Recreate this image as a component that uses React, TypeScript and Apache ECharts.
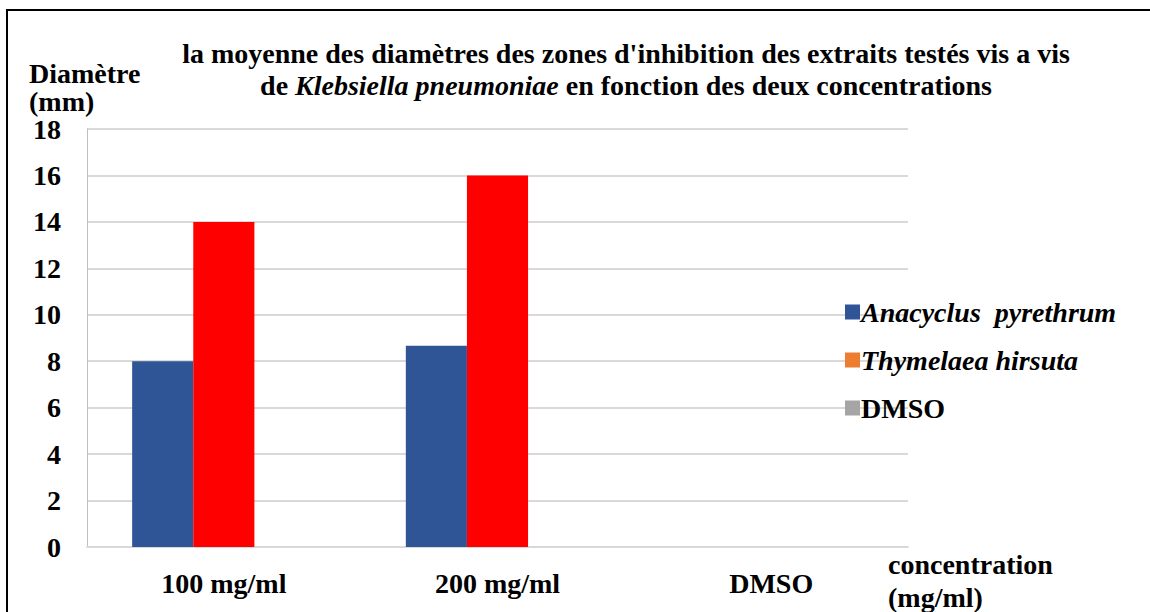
import React, { useEffect, useRef } from "react";
import * as echarts from "echarts";

const categories = ["100 mg/ml", "200 mg/ml", "DMSO"];
const seriesNames = ["Anacyclus  pyrethrum", "Thymelaea hirsuta", "DMSO"];
const anacyclusValues = [8, 8.67, 0];
const thymelaeaValues = [14, 16, 0];
const dmsoValues = [0, 0, 0];
const yTicks = { min: 0, max: 18, interval: 2 };

const FONT = "Liberation Serif";
const FS = 28;

export default function App() {
  const ref = useRef<HTMLDivElement>(null);
  useEffect(() => {
    if (!ref.current) return;
    const chart = echarts.init(ref.current, null, { renderer: "svg" });
    chart.setOption({
      animation: false,
      backgroundColor: "#ffffff",
      textStyle: { fontFamily: FONT },
      title: {
        text:
          "la moyenne des diamètres des zones d'inhibition des extraits testés vis a vis\nde {i|Klebsiella pneumoniae} en fonction des deux concentrations",
        left: 621,
        top: 32,
        textAlign: "center",
        textStyle: {
          fontFamily: FONT,
          fontWeight: "bold",
          fontSize: FS,
          color: "#000",
          lineHeight: 32,
          rich: {
            i: {
              fontFamily: FONT,
              fontWeight: "bold",
              fontStyle: "italic",
              fontSize: FS,
              color: "#000",
              lineHeight: 32,
            },
          },
        },
      },
      legend: {
        orient: "vertical",
        left: 840,
        top: 293,
        itemWidth: 15,
        itemHeight: 15,
        itemGap: 20,
        icon: "rect",
        data: seriesNames,
        formatter: (name: string) => (name === "DMSO" ? `{b|${name}}` : `{i|${name}}`),
        textStyle: {
          color: "#000",
          fontFamily: FONT,
          fontSize: FS,
          padding: [0, 0, 0, -4],
          rich: {
            i: { fontFamily: FONT, fontSize: FS, fontWeight: "bold", fontStyle: "italic", color: "#000" },
            b: { fontFamily: FONT, fontSize: FS, fontWeight: "bold", color: "#000" },
          },
        },
      },
      grid: { left: 87, right: 242, top: 129, bottom: 65 },
      xAxis: {
        type: "category",
        data: categories,
        axisTick: { show: false },
        axisLine: { lineStyle: { color: "#d9d9d9", width: 2 } },
        axisLabel: {
          margin: 22,
          color: "#000",
          fontFamily: FONT,
          fontWeight: "bold",
          fontSize: FS,
        },
      },
      yAxis: {
        type: "value",
        min: yTicks.min,
        max: yTicks.max,
        interval: yTicks.interval,
        axisLine: { show: true, lineStyle: { color: "#bfbfbf", width: 1 } },
        axisTick: { show: false },
        splitLine: { lineStyle: { color: "#d9d9d9", width: 2 } },
        axisLabel: {
          margin: 26,
          color: "#000",
          fontFamily: FONT,
          fontWeight: "bold",
          fontSize: FS,
        },
      },
      series: [
        {
          name: seriesNames[0],
          type: "bar",
          data: anacyclusValues,
          barGap: "0%",
          barCategoryGap: "33%",
          itemStyle: { color: "#2F5597" },
        },
        {
          name: seriesNames[1],
          type: "bar",
          data: thymelaeaValues.map((v) => ({ value: v, itemStyle: { color: "#FF0000" } })),
          itemStyle: { color: "#ED7D31" },
        },
        {
          name: seriesNames[2],
          type: "bar",
          data: dmsoValues,
          itemStyle: { color: "#A5A5A5" },
        },
      ],
      graphic: [
        {
          type: "rect",
          shape: { x: 7, y: 10, width: 1160, height: 640 },
          style: { fill: "none", stroke: "#000", lineWidth: 2 },
          silent: true,
        },
        {
          type: "text",
          left: 29,
          top: 59,
          style: {
            text: "Diamètre\n(mm)",
            fontFamily: FONT,
            fontWeight: "bold",
            fontSize: FS,
            fill: "#000",
            lineHeight: 28,
          },
        },
        {
          type: "text",
          left: 888,
          top: 548,
          style: {
            text: "concentration\n(mg/ml)",
            fontFamily: FONT,
            fontWeight: "bold",
            fontSize: FS,
            fill: "#000",
            lineHeight: 33,
          },
        },
      ],
    });
    return () => chart.dispose();
  }, []);
  return (
    <div
      ref={ref}
      style={{ position: "absolute", left: 0, top: 0, width: 1150, height: 612 }}
    />
  );
}
